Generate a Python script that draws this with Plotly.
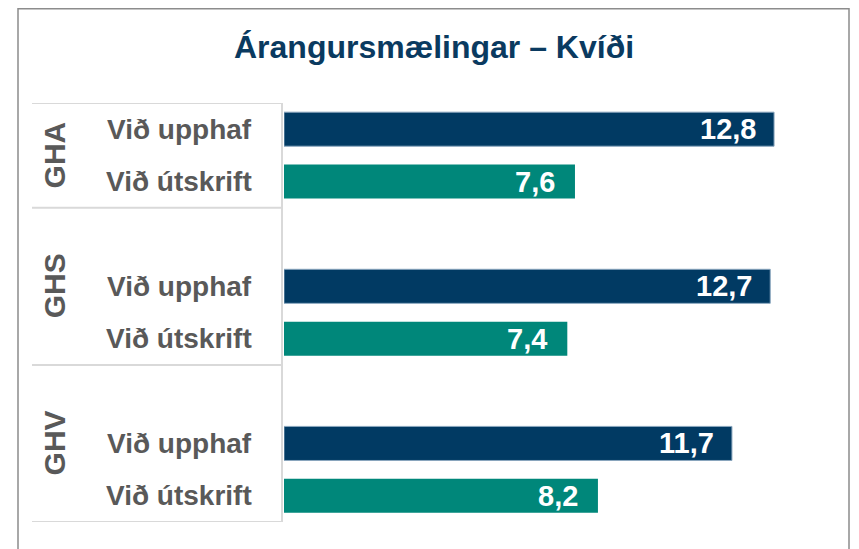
import plotly.graph_objects as go

# ---- data ----
groups = ["GHA", "GHS", "GHV"]
phases = ["Við upphaf", "Við útskrift"]
upphaf_values = [12.8, 12.7, 11.7]
utskrift_values = [7.6, 7.4, 8.2]
title_text = "Árangursmælingar – Kvíði"

# page is 859x549; the plot div sits at an 8px body margin
OX, OY = 8, 8
FW, FH = 859 - OX, 549 - OY
def px(x):
    return (x - OX) / FW
def py(y):
    return 1 - (y - OY) / FH

# category order (with blank spacer slots between groups)
cat_order = []
for gi, g in enumerate(groups):
    if gi > 0:
        cat_order.append(g + "|")
    for p in phases:
        cat_order.append(g + "|" + p)

navy = "#013A63"
teal = "#00877A"
label_grey = "#595959"
line_grey = "#D9D9D9"
FONT = "Liberation Sans"

fig = go.Figure()
fig.add_trace(go.Bar(
    y=[g + "|" + phases[0] for g in groups], x=upphaf_values, orientation="h",
    marker=dict(color=navy, line=dict(color="#8AA6BE", width=1)),
    width=0.65, hoverinfo="skip", showlegend=False))
fig.add_trace(go.Bar(
    y=[g + "|" + phases[1] for g in groups], x=utskrift_values, orientation="h",
    marker=dict(color=teal, line=dict(width=0)),
    width=0.65, hoverinfo="skip", showlegend=False))

annotations = []
# value labels inside bar ends
for g, v in zip(groups, upphaf_values):
    annotations.append(dict(x=v, y=g + "|" + phases[0], xref="x", yref="y",
                            text=f"{v:.1f}".replace(".", ","), showarrow=False,
                            xanchor="right", xshift=-16,
                            font=dict(family=FONT, size=29, color="white", weight="bold")))
for g, v in zip(groups, utskrift_values):
    annotations.append(dict(x=v, y=g + "|" + phases[1], xref="x", yref="y",
                            text=f"{v:.1f}".replace(".", ","), showarrow=False,
                            xanchor="right", xshift=-18,
                            font=dict(family=FONT, size=29, color="white", weight="bold")))

# category labels
for g in groups:
    for p in phases:
        annotations.append(dict(x=px(254), y=g + "|" + p, xref="paper", yref="y",
                                text=p, showarrow=False, xanchor="right", yanchor="middle",
                                font=dict(family=FONT, size=28, color=label_grey, weight="bold")))

# group labels (rotated), centred on the group extent
starts = []
idx = 0
for gi, g in enumerate(groups):
    n = len(phases) + (1 if gi > 0 else 0)
    start, end = idx - 0.5, idx + n - 0.5
    starts.append((start, end))
    annotations.append(dict(x=px(54), y=(start + end) / 2, xref="paper", yref="y",
                            text=g, showarrow=False, textangle=-90,
                            xanchor="center", yanchor="middle",
                            font=dict(family=FONT, size=30, color=label_grey, weight="bold")))
    idx += n

# title
annotations.append(dict(x=px(434), y=py(47), xref="paper", yref="paper", text=title_text,
                        showarrow=False, xanchor="center", yanchor="middle",
                        font=dict(family=FONT, size=32, color="#0A3A60", weight="bold")))

shapes = []
# outer frame
shapes.append(dict(type="rect", xref="paper", yref="paper", x0=px(18), x1=px(849),
                   y0=py(570), y1=py(8.8), line=dict(color="#8C8C8C", width=1.5), layer="below"))
# table lines
boundaries = [starts[0][0]] + [e for s, e in starts]
for b in boundaries:
    shapes.append(dict(type="line", xref="paper", yref="y", x0=px(32), x1=px(282),
                       y0=b, y1=b, line=dict(color=line_grey, width=2)))
shapes.append(dict(type="line", xref="paper", yref="y", x0=px(282), x1=px(282),
                   y0=boundaries[0], y1=boundaries[-1], line=dict(color=line_grey, width=2)))

fig.update_layout(
    width=FW, height=FH, autosize=False,
    margin=dict(l=0, r=0, t=0, b=0),
    paper_bgcolor="white", plot_bgcolor="white",
    barmode="overlay",
    xaxis=dict(range=[0, 14], domain=[px(284), px(820)], visible=False, fixedrange=True),
    yaxis=dict(type="category", categoryorder="array", categoryarray=cat_order,
               range=[len(cat_order) - 0.5, -0.5], domain=[py(522), py(103)],
               showticklabels=False, showgrid=False, zeroline=False, showline=False, ticks=""),
    annotations=annotations, shapes=shapes,
)

fig.write_html("out.html")
